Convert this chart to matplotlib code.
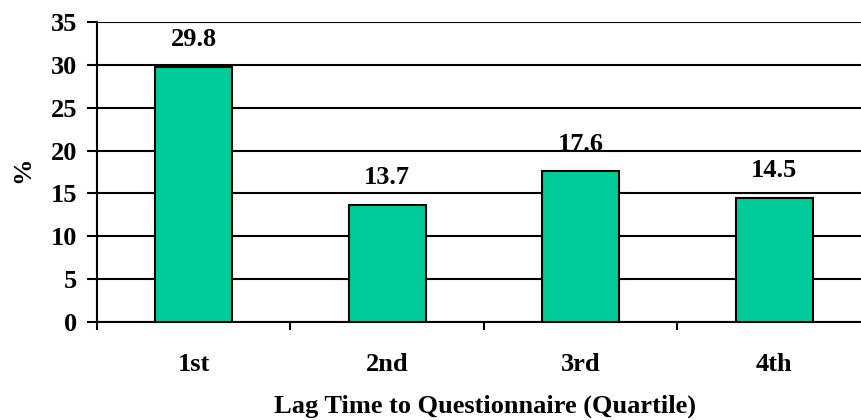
import matplotlib
matplotlib.use("Agg")
import matplotlib.pyplot as plt
import numpy as np

categories = ["1st", "2nd", "3rd", "4th"]
values = [29.8, 13.7, 17.6, 14.5]
y_ticks = [0, 5, 10, 15, 20, 25, 30, 35]

plt.rcParams['font.family'] = ['Liberation Serif', 'DejaVu Serif']
plt.rcParams['font.weight'] = 'bold'
FS = 19

fig = plt.figure(figsize=(8.62, 4.2), dpi=100)
# plot area: left edge at x=97px, y=0 at 322px, y=35 at 22px
ax = fig.add_axes([97 / 862, (420 - 322) / 420, 1 - 97 / 862, 300 / 420])

x = np.arange(len(categories))
ax.set_axisbelow(True)
ax.yaxis.grid(True, color="black", linewidth=1.5)
ax.bar(x, values, width=0.4, color="#00CC99", edgecolor="black", linewidth=1.5, zorder=3)

for xi, v in zip(x, values):
    ax.annotate(f"{v:.1f}", (xi, v), xytext=(0, 11), textcoords="offset points",
                ha="center", va="bottom", fontsize=FS, fontweight="bold")

ax.set_ylim(0, 35)
ax.set_xlim(-0.5, -0.5 + (862 - 97) / 193.5)
ax.set_yticks(y_ticks)
ax.tick_params(axis="y", length=7, width=1.5, pad=7, labelsize=FS)

# ticks at category boundaries, labels at centres
ax.set_xticks(np.arange(len(categories)) - 0.5)
ax.set_xticklabels([])
ax.set_xticks(x, minor=True)
ax.set_xticklabels(categories, minor=True)
ax.tick_params(axis="x", which="major", length=6, width=1.5, direction="out")
ax.tick_params(axis="x", which="minor", length=0, pad=22, labelsize=FS)

for s in ["top", "right"]:
    ax.spines[s].set_visible(False)
ax.spines["left"].set_linewidth(1.5)
ax.spines["bottom"].set_linewidth(1.5)

ax.set_xlabel("Lag Time to Questionnaire (Quartile)", fontsize=FS, fontweight="bold")
ax.xaxis.set_label_coords((485 - 97) / (862 - 97), -(406 - 322) / 300, transform=ax.transAxes)
ax.xaxis.label.set_va("center")
ax.set_ylabel("%", fontsize=FS, fontweight="bold")
ax.yaxis.set_label_coords(-(97 - 23) / (862 - 97), (322 - 170) / 300, transform=ax.transAxes)
ax.yaxis.label.set_va("center")

fig.savefig("out.png", dpi=100)
